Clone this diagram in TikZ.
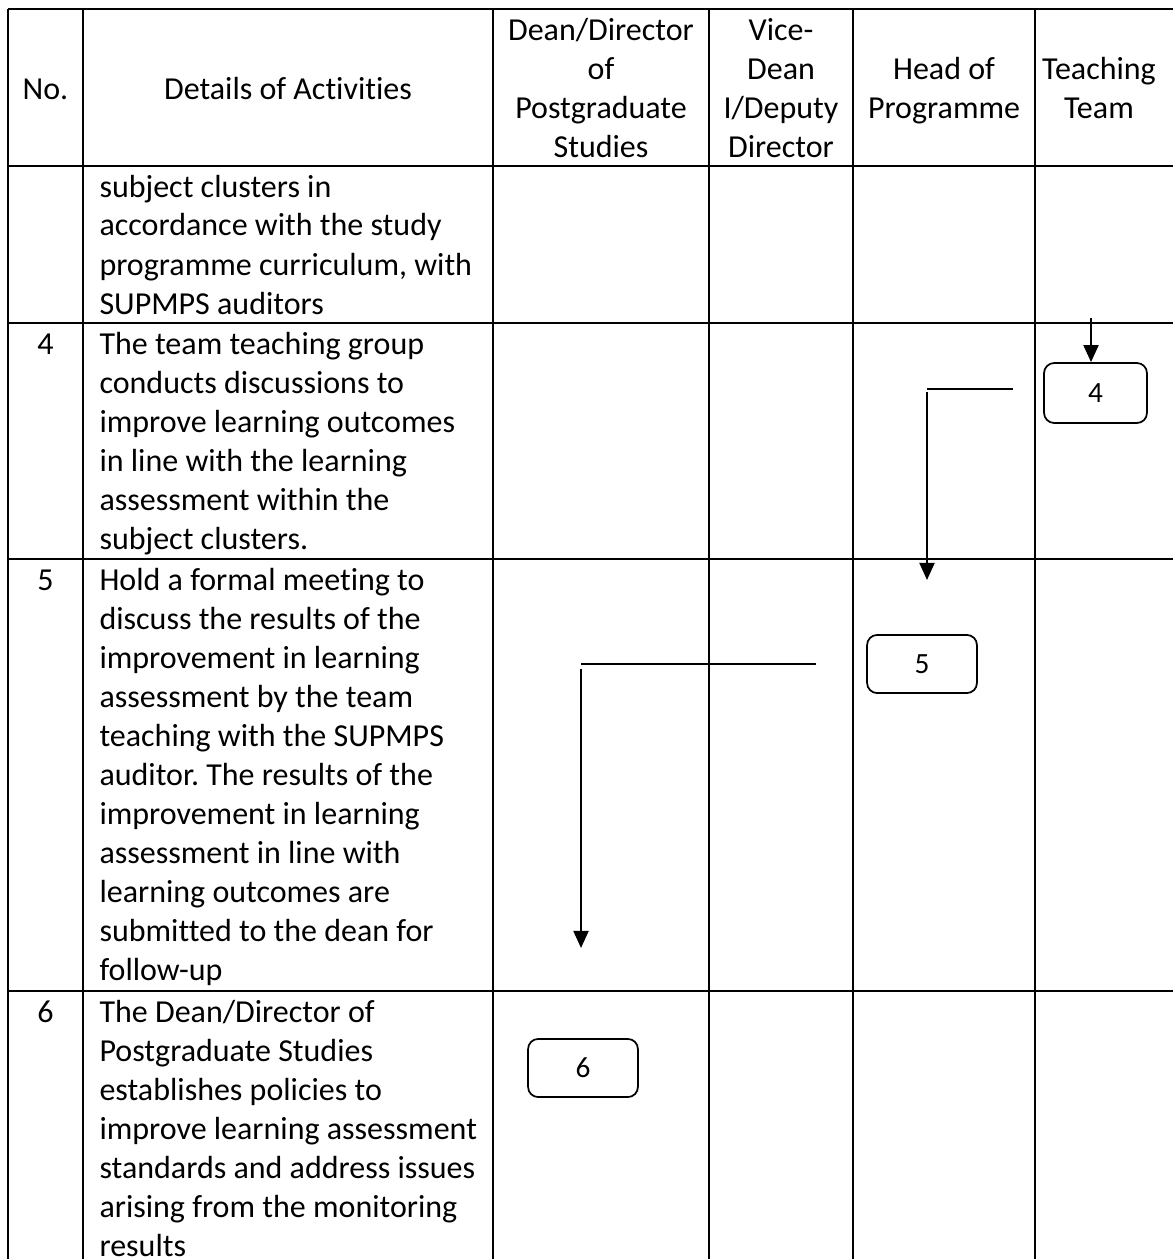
\documentclass[tikz,border=0pt]{standalone}
\usepackage{fontspec}
\setmainfont{Carlito}[Ligatures={NoCommon}]
\usetikzlibrary{arrows.meta}
\frenchspacing
\begin{document}
\begin{tikzpicture}[x=0.375pt,y=-0.375pt,
  grid/.style={line width=0.95pt},
  conn/.style={line width=0.85pt},
  arr/.style={line width=0.85pt,-{Triangle[length=6.4pt,width=5.6pt]}},
  stepbox/.style={draw,line width=0.65pt,rounded corners=3.8pt,inner sep=0pt,
    font=\fontsize{11}{13}\selectfont},
  hdr/.style={anchor=base,inner sep=0pt},
  body/.style={anchor=base west,inner sep=0pt},
]
\newcommand{\bodyfont}{\fontsize{12}{14.625}\selectfont}
\useasboundingbox (0,0) rectangle (1173,1259);
\fill[white] (0,0) rectangle (1173,1259);
% table grid
\foreach \yy in {9,166,323,559,991} \draw[grid] (8,\yy) -- (1173,\yy);
\foreach \xx in {8,83,493,709,853,1035} \draw[grid] (\xx,9) -- (\xx,1259);
% header
\node[hdr] (hno) at (45.5,99.5) {\bodyfont No.};
\node[hdr] (hdet) at (288,99.5) {\bodyfont Details of Activities};
\node[hdr] (hdean) at (601,41) {\parbox[t]{200pt}{\bodyfont\centering Dean/Director\\of\\Postgraduate\\Studies}};
\node[hdr] (hvice) at (781,41) {\parbox[t]{200pt}{\bodyfont\centering Vice-\\Dean\\I/Deputy\\Director}};
\node[hdr] (hhead) at (944,80) {\parbox[t]{200pt}{\bodyfont\centering Head of\\Programme}};
\node[hdr] (hteam) at (1099,80) {\parbox[t]{200pt}{\bodyfont\centering Teaching\\Team}};
% numbers
\node[hdr] (n4) at (45.5,354) {\bodyfont 4};
\node[hdr] (n5) at (45.5,590) {\bodyfont 5};
\node[hdr] (n6) at (45.5,1022) {\bodyfont 6};
% details
\node[body] (d3) at (99,197) {\parbox[t]{160pt}{\bodyfont\raggedright
subject clusters in\\accordance with the study\\programme curriculum, with\\SUPMPS auditors}};
\node[body] (d4) at (99,354) {\parbox[t]{160pt}{\bodyfont\raggedright
The team teaching group\\conducts discussions to\\improve learning outcomes\\in line with the learning\\assessment within the\\subject clusters.}};
\node[body] (d5) at (99,590) {\parbox[t]{160pt}{\bodyfont\raggedright
Hold a formal meeting to\\discuss the results of the\\improvement in learning\\assessment by the team\\teaching with the SUPMPS\\auditor. The results of the\\improvement in learning\\assessment in line with\\learning outcomes are\\submitted to the dean for\\follow-up}};
\node[body] (d6) at (99,1022) {\parbox[t]{160pt}{\bodyfont\raggedright
The Dean/Director of\\Postgraduate Studies\\establishes policies to\\improve learning assessment\\standards and address issues\\arising from the monitoring\\results}};
% flow boxes
\node[stepbox,minimum width=38.6pt,minimum height=22.5pt] (b4) at (1095.5,393) {4};
\node[stepbox,minimum width=41.2pt,minimum height=21.8pt] (b5) at (922,664) {5};
\node[stepbox,minimum width=41.2pt,minimum height=21.8pt] (b6) at (583,1068) {6};
% connectors
\coordinate (c4in) at (1091,318);
\draw[arr] (c4in) -- (c4in |- b4.north);
\coordinate (h4a) at (1013,389);
\coordinate (h4b) at (927,389);
\coordinate (v4a) at (927,392);
\coordinate (v4b) at (927,580);
\draw[conn] (h4a) -- (h4b);
\draw[arr] (v4a) -- (v4b);
\coordinate (h5a) at (816,664);
\coordinate (h5b) at (581,664);
\coordinate (v5a) at (581,669);
\coordinate (v5b) at (581,948);
\draw[conn] (h5a) -- (h5b);
\draw[arr] (v5a) -- (v5b);
\end{tikzpicture}
\end{document}
